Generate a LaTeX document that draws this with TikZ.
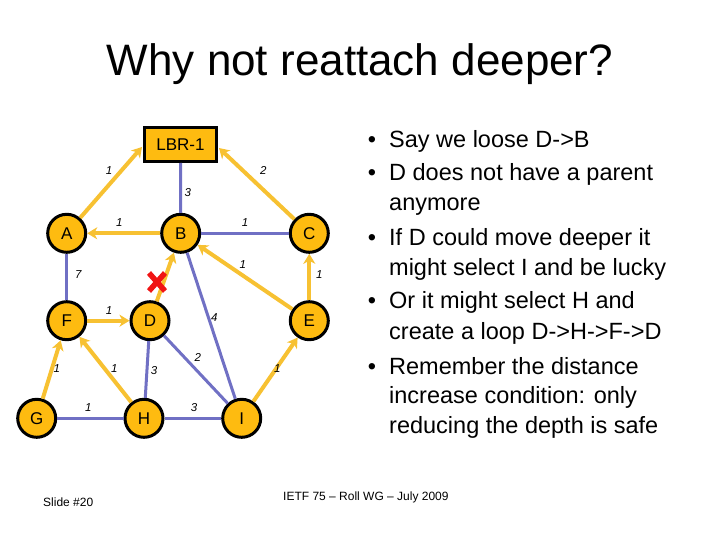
\documentclass[tikz,border=0pt]{standalone}
\usepackage{fontspec}
\setmainfont{Liberation Sans}
\usetikzlibrary{arrows.meta}
\definecolor{nodefill}{RGB}{254,187,16}
\definecolor{arrowyel}{RGB}{247,193,50}
\definecolor{edgeblue}{RGB}{112,112,196}
\definecolor{xred}{RGB}{240,20,20}
\begin{document}
\begin{tikzpicture}[x=1pt,y=-1pt,
 rnode/.style={circle,draw=black,line width=3pt,fill=nodefill,minimum size=38pt,inner sep=0pt,font=\fontsize{17}{17}\selectfont},
 rootbox/.style={rectangle,draw=black,line width=3pt,fill=nodefill,minimum width=72pt,minimum height=34pt,inner sep=0pt,font=\fontsize{17}{17}\selectfont},
 parent/.style={draw=arrowyel,line width=4pt,-{Stealth[length=10pt,width=12pt,inset=3pt]}},
 link/.style={draw=edgeblue,line width=3pt},
 wlabel/.style={font=\fontsize{11.5}{11.5}\selectfont\itshape,text=black,inner sep=0pt},
 bul/.style={anchor=base west,inner sep=0pt,font=\fontsize{23.5}{26}\selectfont},
 bdot/.style={anchor=base,inner sep=0pt,font=\fontsize{23.5}{26}\selectfont},
 small/.style={anchor=base west,inner sep=0pt,font=\fontsize{12}{12}\selectfont},
]
\useasboundingbox (0,0) rectangle (720,540);

% title
\node[anchor=base,inner sep=0pt,font=\fontsize{44}{46}\selectfont] (title) at (360,76) {Why not reattach deeper?};

% nodes
\node[rootbox] (L) at (180.5,144.5) {LBR-1};
\node[rnode] (A) at (66.7,233.3) {A};
\node[rnode] (B) at (180.7,233.3) {B};
\node[rnode] (C) at (309.3,233.3) {C};
\node[rnode] (F) at (66.7,320.7) {F};
\node[rnode] (D) at (150,320.7) {D};
\node[rnode] (E) at (309.3,320.7) {E};
\node[rnode] (G) at (36.7,418.3) {G};
\node[rnode] (H) at (144,418.3) {H};
\node[rnode] (I) at (241.7,418.3) {I};

\coordinate (Lw) at (142,147);
\coordinate (Le) at (219,148);

% blue links
\draw[link] (L) -- (B);
\draw[link] (B) -- (C);
\draw[link] (A) -- (F);
\draw[link] (B) -- (I);
\draw[link] (D) -- (I);
\draw[link] (D) -- (H);
\draw[link] (G) -- (H);
\draw[link] (H) -- (I);

% yellow parent arrows
\draw[parent] (A) -- (Lw);
\draw[parent] (C) -- (Le);
\draw[parent] (B) -- (A);
\draw[parent] (E) -- (B);
\draw[parent] (E) -- (C);
\draw[parent] (F) -- (D);
\draw[parent] (D) -- (B);
\draw[parent] (H) -- (F);
\draw[parent] (G) -- (F);
\draw[parent] (I) -- (E);

% red cross
\coordinate (X) at (157,282);
\draw[xred,line width=5.5pt] ([shift={(-8,-9)}]X) -- ([shift={(8,9)}]X);
\draw[xred,line width=5.5pt] ([shift={(8,-9)}]X) -- ([shift={(-8,9)}]X);

% weights
\node[wlabel] (w1) at (109,170.7) {1};
\node[wlabel] (w2) at (263.3,170.7) {2};
\node[wlabel] (w3) at (187.7,192.3) {3};
\node[wlabel] (w4) at (119.3,222.7) {1};
\node[wlabel] (w5) at (245,222.7) {1};
\node[wlabel] (w6) at (242.7,265) {1};
\node[wlabel] (w7) at (319.3,275) {1};
\node[wlabel] (w8) at (78.3,275) {7};
\node[wlabel] (w9) at (109,311) {1};
\node[wlabel] (w10) at (214.3,317.3) {4};
\node[wlabel] (w11) at (197.7,357.7) {2};
\node[wlabel] (w12) at (154,370.7) {3};
\node[wlabel] (w13) at (114.3,368.3) {1};
\node[wlabel] (w14) at (56.7,368.3) {1};
\node[wlabel] (w15) at (88.3,407.3) {1};
\node[wlabel] (w16) at (194,407.3) {3};
\node[wlabel] (w17) at (277.3,368.3) {1};

% bullets
\node[bdot] (b1) at (372,148) {•};
\node[bul] (t1) at (389,148) {Say we loose D->B};
\node[bdot] (b2) at (372,181) {•};
\node[bul] (t2) at (389,181) {D does not have a parent};
\node[bul] (t3) at (389,211) {anymore};
\node[bdot] (b3) at (372,245) {•};
\node[bul] (t4) at (389,245) {If D could move deeper it};
\node[bul] (t5) at (389,275) {might select I and be lucky};
\node[bdot] (b4) at (372,308) {•};
\node[bul] (t6) at (389,308) {Or it might select H and};
\node[bul] (t7) at (389,339) {create a loop D->H->F->D};
\node[bdot] (b5) at (372,374) {•};
\node[bul] (t8) at (389,374) {Remember the distance};
\node[bul] (t9) at (389,403) {increase condition: only};
\node[bul] (t10) at (389,433) {reducing the depth is safe};

% footers
\node[small] (foot) at (283,500) {IETF 75 – Roll WG – July 2009};
\node[small] (slide) at (43,506.5) {Slide \#20};
\end{tikzpicture}
\end{document}
